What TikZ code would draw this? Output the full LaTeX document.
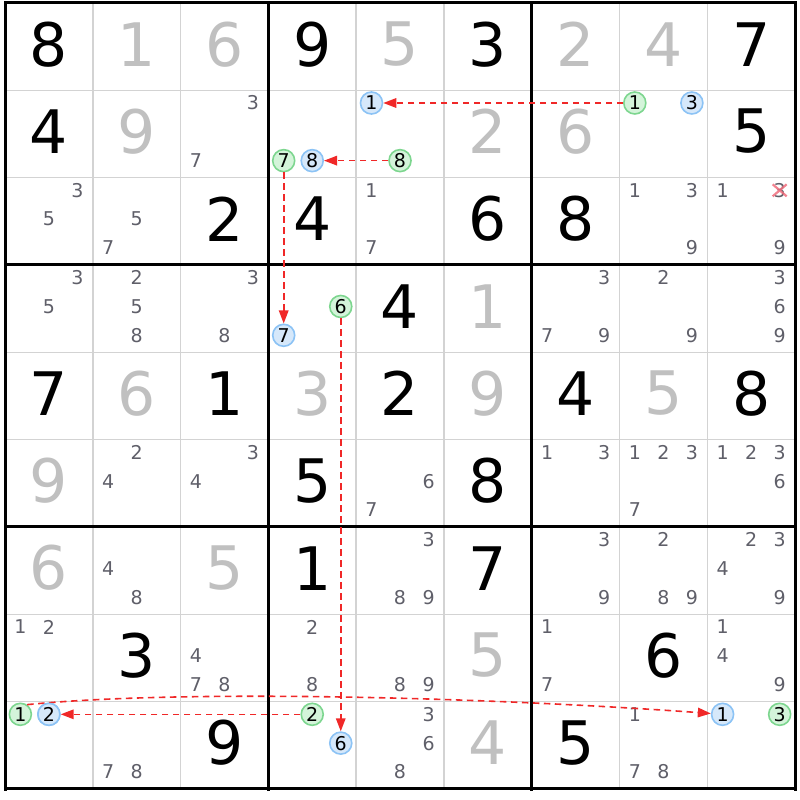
\documentclass[tikz,border=0pt]{standalone}
\usepackage{fontspec}
\setmainfont{DejaVu Sans}
\usetikzlibrary{arrows.meta}
\definecolor{candc}{RGB}{95,95,105}
\definecolor{givgray}{RGB}{192,192,192}
\definecolor{thinc}{RGB}{211,211,211}
\definecolor{bfill}{RGB}{214,232,250}
\definecolor{bline}{RGB}{140,195,245}
\definecolor{gfill}{RGB}{212,244,218}
\definecolor{gline}{RGB}{125,214,143}
\definecolor{chainred}{RGB}{240,40,40}
\definecolor{xpink}{RGB}{240,110,125}
\newcommand\sdpos[3]{%
  \pgfmathsetmacro\sdk{int(mod(#3-1,3))}%
  \pgfmathsetmacro\sdj{int((#3-1)/3)}%
  \pgfmathsetmacro\sdx{5+(#2-1)*87.78+(0.175+0.325*\sdk)*87.78}%
  \pgfmathsetmacro\sdy{3+(#1-1)*87.33+(0.145+0.33*\sdj)*87.33}}
\newcommand\sdcands[3]{%
  \foreach \dd in {#3} {\sdpos{#1}{#2}{\dd}\node[cand] (c#1#2\dd) at (\sdx,\sdy) {\dd};}}
\newcommand\sdcirc[4]{%
  \sdpos{#1}{#2}{#3}\node[#4] (k#1#2#3) at (\sdx,\sdy) {#3};}
\newcommand\sdbig[4]{%
  \pgfmathsetmacro\sdx{5+(#2-0.5)*87.78}%
  \pgfmathsetmacro\sdy{3+(#1-0.5)*87.33-2.5}%
  \node[#4] (d#1#2) at (\sdx,\sdy) {#3};}
\begin{document}
\begin{tikzpicture}[x=1pt,y=-1pt,
  cand/.style={inner sep=0pt,text=candc,font=\fontsize{19}{19}\selectfont},
  giv/.style={inner sep=0pt,text=black,font=\fontsize{60}{60}\selectfont},
  sol/.style={inner sep=0pt,text=givgray,font=\fontsize{60}{60}\selectfont},
  bc/.style={circle,inner sep=0pt,minimum size=22pt,draw=bline,fill=bfill,line width=1.6pt,text=black,font=\fontsize{19}{19}\selectfont},
  gc/.style={circle,inner sep=0pt,minimum size=22pt,draw=gline,fill=gfill,line width=1.6pt,text=black,font=\fontsize{19}{19}\selectfont},
  thinline/.style={draw=thinc,line width=1.5pt},
  thickline/.style={draw=black,line width=3pt},
  chain/.style={draw=chainred,line width=1.6pt,dash pattern=on 6.5pt off 4.5pt,-{Triangle[length=13pt,width=9.5pt,fill=chainred]}},
]
\useasboundingbox (0,0) rectangle (800,800);
\fill[white] (0,0) rectangle (800,800);
% grid
\foreach \i in {1,2,4,5,7,8} {
  \draw[thinline] ({5+\i*87.78},3) -- ({5+\i*87.78},789);
  \draw[thinline] (5,{3+\i*87.33}) -- (795,{3+\i*87.33});
}
\foreach \i in {0,3,6,9} {
  \draw[thickline,line cap=rect] ({5+\i*87.78},3) -- ({5+\i*87.78},789);
  \draw[thickline,line cap=rect] (5,{3+\i*87.33}) -- (795,{3+\i*87.33});
}
% big digits
\sdbig{1}{1}{8}{giv}\sdbig{1}{2}{1}{sol}\sdbig{1}{3}{6}{sol}\sdbig{1}{4}{9}{giv}\sdbig{1}{5}{5}{sol}\sdbig{1}{6}{3}{giv}\sdbig{1}{7}{2}{sol}\sdbig{1}{8}{4}{sol}\sdbig{1}{9}{7}{giv}
\sdbig{2}{1}{4}{giv}\sdbig{2}{2}{9}{sol}\sdbig{2}{6}{2}{sol}\sdbig{2}{7}{6}{sol}\sdbig{2}{9}{5}{giv}
\sdbig{3}{3}{2}{giv}\sdbig{3}{4}{4}{giv}\sdbig{3}{6}{6}{giv}\sdbig{3}{7}{8}{giv}
\sdbig{4}{5}{4}{giv}\sdbig{4}{6}{1}{sol}
\sdbig{5}{1}{7}{giv}\sdbig{5}{2}{6}{sol}\sdbig{5}{3}{1}{giv}\sdbig{5}{4}{3}{sol}\sdbig{5}{5}{2}{giv}\sdbig{5}{6}{9}{sol}\sdbig{5}{7}{4}{giv}\sdbig{5}{8}{5}{sol}\sdbig{5}{9}{8}{giv}
\sdbig{6}{1}{9}{sol}\sdbig{6}{4}{5}{giv}\sdbig{6}{6}{8}{giv}
\sdbig{7}{1}{6}{sol}\sdbig{7}{3}{5}{sol}\sdbig{7}{4}{1}{giv}\sdbig{7}{6}{7}{giv}
\sdbig{8}{2}{3}{giv}\sdbig{8}{6}{5}{sol}\sdbig{8}{8}{6}{giv}
\sdbig{9}{3}{9}{giv}\sdbig{9}{6}{4}{sol}\sdbig{9}{7}{5}{giv}
% candidates
\sdcands{2}{3}{3,7}
\sdcands{3}{1}{3,5}\sdcands{3}{2}{5,7}\sdcands{3}{5}{1,7}\sdcands{3}{8}{1,3,9}\sdcands{3}{9}{1,3,9}
\sdcands{4}{1}{3,5}\sdcands{4}{2}{2,5,8}\sdcands{4}{3}{3,8}\sdcands{4}{7}{3,7,9}\sdcands{4}{8}{2,9}\sdcands{4}{9}{3,6,9}
\sdcands{6}{2}{2,4}\sdcands{6}{3}{3,4}\sdcands{6}{5}{6,7}\sdcands{6}{7}{1,3}\sdcands{6}{8}{1,2,3,7}\sdcands{6}{9}{1,2,3,6}
\sdcands{7}{2}{4,8}\sdcands{7}{5}{3,8,9}\sdcands{7}{7}{3,9}\sdcands{7}{8}{2,8,9}\sdcands{7}{9}{2,3,4,9}
\sdcands{8}{1}{1,2}\sdcands{8}{3}{4,7,8}\sdcands{8}{4}{2,8}\sdcands{8}{5}{8,9}\sdcands{8}{7}{1,7}\sdcands{8}{9}{1,4,9}
\sdcands{9}{2}{7,8}\sdcands{9}{5}{3,6,8}\sdcands{9}{8}{1,7,8}
% eliminated candidate
\draw[xpink,opacity=0.85,line width=2.2pt] ([shift={(-7,-6)}]c393.center) -- ([shift={(7,6)}]c393.center)
  ([shift={(-7,6)}]c393.center) -- ([shift={(7,-6)}]c393.center);
% chain circle positions (nodes placed first as coordinates for the links)
\sdcirc{2}{4}{7}{gc}\sdcirc{2}{4}{8}{bc}
\sdcirc{2}{5}{1}{bc}\sdcirc{2}{5}{8}{gc}
\sdcirc{2}{8}{1}{gc}\sdcirc{2}{8}{3}{bc}
\sdcirc{4}{4}{6}{gc}\sdcirc{4}{4}{7}{bc}
\sdcirc{9}{1}{1}{gc}\sdcirc{9}{1}{2}{bc}
\sdcirc{9}{4}{2}{gc}\sdcirc{9}{4}{6}{bc}
\sdcirc{9}{9}{1}{bc}\sdcirc{9}{9}{3}{gc}
% chain links
\draw[chain] (k281) -- (k251);
\draw[chain] (k258) -- (k248);
\draw[chain] (k247) -- (k447);
\draw[chain] (k446) -- (k946);
\draw[chain] (k942) -- (k912);
\draw[chain] (k911.55) .. controls +(150,-15) and +(-250,-18) .. (k991);
% redraw circles on top of links
\sdcirc{9}{1}{2}{bc}
\end{tikzpicture}
\end{document}
